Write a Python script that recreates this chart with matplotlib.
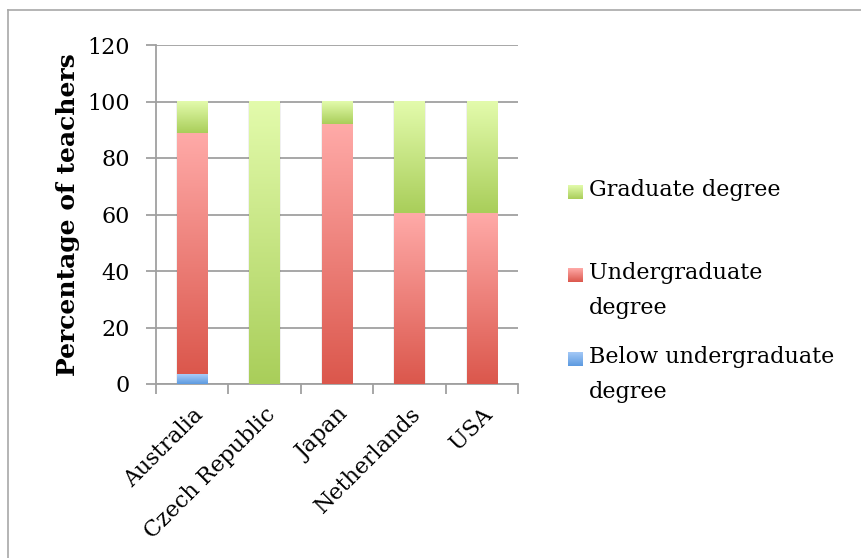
import numpy as np
import matplotlib
matplotlib.use('Agg')
import matplotlib.pyplot as plt
from matplotlib.colors import LinearSegmentedColormap
from matplotlib.lines import Line2D
from matplotlib.patches import Rectangle

countries = ['Australia', 'Czech Republic', 'Japan', 'Netherlands', 'USA']
below_ug = [3.5, 0, 0, 0, 0]
undergrad = [85.2, 0, 92, 60.5, 60.5]
graduate = [11.3, 100, 8, 39.5, 39.5]

series_names = ['Below undergraduate\ndegree', 'Undergraduate\ndegree', 'Graduate degree']
series_vals = [below_ug, undergrad, graduate]
# (dark bottom, light top) of each gradient fill
series_cols = [('#5c9ae0', '#a9ccf8'), ('#db574c', '#ffaaa8'), ('#a9ce5a', '#e3fbac')]

plt.rcParams['font.family'] = ['DejaVu Serif']
FS = 16

fig = plt.figure(figsize=(8.61, 5.58), dpi=100)
ax = fig.add_axes([156 / 861, 1 - 384 / 558, 362 / 861, 339 / 558])

x = np.arange(len(countries))
grad = np.linspace(0, 1, 256).reshape(-1, 1)
bottom = np.zeros(len(countries))
for vals, cols in zip(series_vals, series_cols):
    cmap = LinearSegmentedColormap.from_list('g', cols)
    bars = ax.bar(x, vals, 0.42, bottom=bottom, color='none', zorder=3)
    for p in bars:
        if p.get_height() <= 0:
            continue
        x0, y0 = p.get_x(), p.get_y()
        # soft shadow
        ax.add_patch(Rectangle((x0 - 0.015, y0), p.get_width() + 0.03, p.get_height(),
                               facecolor='#000000', alpha=0.06, edgecolor='none', zorder=2))
        ax.imshow(grad, extent=[x0, x0 + p.get_width(), y0, y0 + p.get_height()],
                  origin='lower', aspect='auto', cmap=cmap, zorder=3)
    bottom = bottom + np.array(vals)

ax.set_xlim(-0.5, len(countries) - 0.5)
ax.set_ylim(0, 120)
ax.set_yticks(np.arange(0, 121, 20))
ax.grid(axis='y', color='#a0a0a0', linewidth=1.3, zorder=1)
ax.set_axisbelow(True)
for s in ['top', 'right']:
    ax.spines[s].set_visible(False)
for s in ['left', 'bottom']:
    ax.spines[s].set_color('#a0a0a0')
    ax.spines[s].set_linewidth(1.3)

ax.set_xticks(x)
ax.set_xticklabels(countries, rotation=45, ha='right', va='top', rotation_mode='anchor', fontsize=FS)
ax.tick_params(axis='x', which='major', length=0, pad=14)
ax.set_xticks(np.arange(-0.5, len(countries), 1), minor=True)
ax.tick_params(axis='x', which='minor', length=7, width=1.3, color='#a0a0a0')
ax.tick_params(axis='y', length=7, width=1.3, color='#a0a0a0', labelsize=FS, pad=12)
ax.set_ylabel('Percentage of teachers', fontsize=18, fontweight='bold', labelpad=5)

# legend drawn by hand so the swatch lines up with the first text line
leg_y = [359, 275, 192]
for name, cols, yy in zip(series_names, series_cols, leg_y):
    fy = 1 - yy / 558
    sq = fig.add_axes([568 / 861, fy - 7 / 558, 15 / 861, 14 / 558])
    sq.imshow(grad, origin='lower', aspect='auto', cmap=LinearSegmentedColormap.from_list('g', cols))
    sq.set_axis_off()
    fig.text(589 / 861, fy + 13 / 558, name, fontsize=FS, va='top', ha='left', linespacing=1.75)

fig.add_artist(Line2D([8 / 861, 1], [1 - 10 / 558, 1 - 10 / 558], color='#a8a8a8', linewidth=1.2))
fig.add_artist(Line2D([8 / 861, 8 / 861], [0, 1 - 10 / 558], color='#a8a8a8', linewidth=1.2))

fig.savefig('out.png', dpi=100)
